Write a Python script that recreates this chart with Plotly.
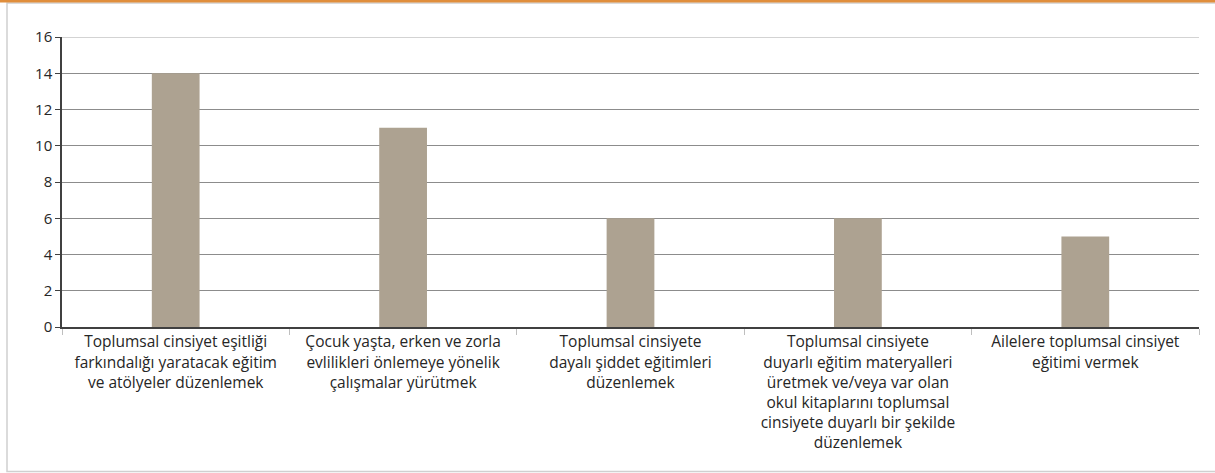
import plotly.graph_objects as go

categories = [
    "Toplumsal cinsiyet eşitliği<br>farkındalığı yaratacak eğitim<br>ve atölyeler düzenlemek",
    "Çocuk yaşta, erken ve zorla<br>evlilikleri önlemeye yönelik<br>çalışmalar yürütmek",
    "Toplumsal cinsiyete<br>dayalı şiddet eğitimleri<br>düzenlemek",
    "Toplumsal cinsiyete<br>duyarlı eğitim materyalleri<br>üretmek ve/veya var olan<br>okul kitaplarını toplumsal<br>cinsiyete duyarlı bir şekilde<br>düzenlemek",
    "Ailelere toplumsal cinsiyet<br>eğitimi vermek",
]
values = [14, 11, 6, 6, 5]
y_ticks = [0, 2, 4, 6, 8, 10, 12, 14, 16]

fig = go.Figure(
    go.Bar(
        x=categories,
        y=values,
        marker=dict(color="#ada291", line=dict(width=0)),
        width=0.21,
    )
)

# plot area: x 62..1199, y 37..327 (pixels)
pw, ph = 1137, 290

def px_x(v):
    return (v - 62) / pw

def px_y(v):
    return (327 - v) / ph

fig.update_layout(
    width=1215,
    height=473,
    paper_bgcolor="white",
    plot_bgcolor="white",
    margin=dict(l=62, r=16, t=37, b=146, autoexpand=False),
    font=dict(family="Open Sans", size=15, color="#262626"),
    showlegend=False,
    shapes=[
        dict(type="rect", xref="paper", yref="paper",
             x0=px_x(7), x1=px_x(1225), y0=px_y(471.5), y1=px_y(3),
             line=dict(color="#d0d0d0", width=1.5), layer="below"),
        dict(type="line", xref="paper", yref="paper",
             x0=px_x(0), x1=px_x(1215), y0=px_y(1), y1=px_y(1),
             line=dict(color="#e08e3c", width=3)),
        # top gridline is lighter in the original
        dict(type="line", xref="paper", yref="y",
             x0=0, x1=1, y0=16, y1=16,
             line=dict(color="#c4c4c4", width=1.5)),
    ],
)

fig.update_xaxes(
    type="category",
    tickson="boundaries",
    ticks="outside",
    ticklen=6,
    tickcolor="#bfbfbf",
    showline=True,
    linecolor="#404040",
    linewidth=1.5,
    showgrid=False,
    tickangle=0,
    tickfont=dict(size=15.5, color="#262626"),
)

fig.update_yaxes(
    range=[0, 16],
    tickvals=y_ticks,
    ticks="outside",
    ticklen=5,
    tickcolor="#404040",
    showline=True,
    linecolor="#404040",
    linewidth=1.5,
    showgrid=True,
    gridcolor="#8c8c8c",
    gridwidth=1,
    zeroline=False,
    tickfont=dict(size=15, color="#262626"),
)

fig.write_html(
    "out.html",
    config={"displayModeBar": False},
    post_script="document.body.style.margin='0';",
)
